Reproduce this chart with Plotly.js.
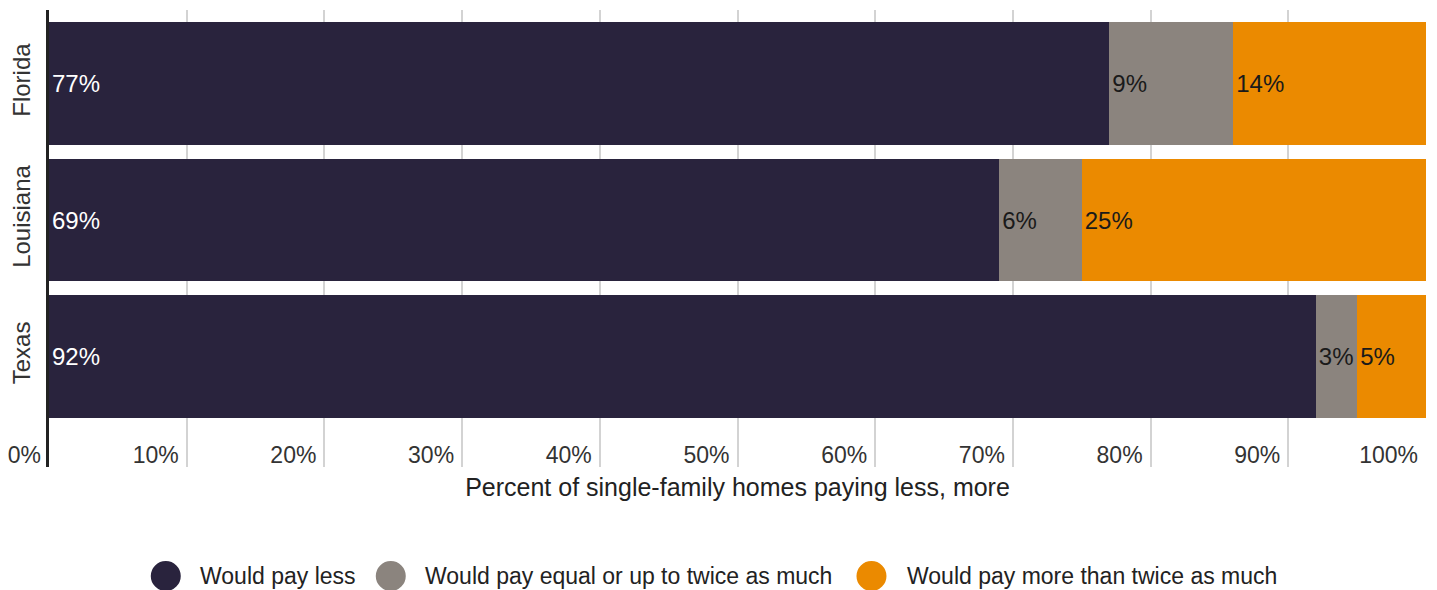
<!DOCTYPE html>
<html>
<head>
<meta charset="utf-8">
<script src="https://cdn.plot.ly/plotly-3.0.1.min.js"></script>
<style>html,body{margin:0;padding:0;background:#fff;}#chart{width:1437px;height:590px;}</style>
</head>
<body>
<div id="chart"></div>
<script>
// Data
const states = ["Texas", "Louisiana", "Florida"];
const seriesNames = ["Would pay less", "Would pay equal or up to twice as much", "Would pay more than twice as much"];
const payLess = [92, 69, 77];
const payEqualOrDouble = [3, 6, 9];
const payMoreThanDouble = [5, 25, 14];
const xTickVals = [0, 10, 20, 30, 40, 50, 60, 70, 80, 90, 100];
const xTickText = ["0%", "10%", "20%", "30%", "40%", "50%", "60%", "70%", "80%", "90%", "100%"];

const colors = ["#29233d", "#8b847e", "#eb8a00"];
const textColors = ["#ffffff", "#1a1a1a", "#1a1a1a"];
const FONT = "Liberation Sans, Arial, sans-serif";
const values = [payLess, payEqualOrDouble, payMoreThanDouble];

const traces = values.map((v, i) => ({
  type: "bar",
  orientation: "h",
  name: seriesNames[i],
  y: states,
  x: v,
  marker: {color: colors[i], line: {width: 0}},
  texttemplate: "%{x}%",
  textposition: "inside",
  insidetextanchor: "start",
  textangle: 0,
  constraintext: "none",
  insidetextfont: {family: FONT, size: 24, color: textColors[i]},
  hoverinfo: "skip",
  showlegend: false
}));

const legendX = [0.0848, 0.2482, 0.5973];
const legendTextX = [0.1085, 0.2718, 0.6216];
const legendY = -0.2385;
const shapes = colors.map((c, i) => ({
  type: "circle", xref: "paper", yref: "paper",
  xsizemode: "pixel", ysizemode: "pixel",
  xanchor: legendX[i], yanchor: legendY,
  x0: -15, x1: 15, y0: -15, y1: 15,
  fillcolor: c, line: {width: 0}
}));
const annotations = seriesNames.map((n, i) => ({
  text: n, xref: "paper", yref: "paper",
  x: legendTextX[i], y: legendY, xanchor: "left", yanchor: "middle",
  showarrow: false, font: {family: FONT, size: 23, color: "#222"}
}));

const layout = {
  width: 1437, height: 590,
  margin: {l: 49, r: 11, t: 10, b: 123},
  paper_bgcolor: "#fff", plot_bgcolor: "#fff",
  barmode: "stack",
  bargap: 0.1,
  font: {family: FONT, size: 22, color: "#333"},
  xaxis: {
    range: [0, 100],
    tickvals: xTickVals,
    ticktext: xTickText,
    ticklabelposition: "outside left",
    ticklabelstandoff: -28,
    ticklabelshift: -8,
    showgrid: true, gridcolor: "#d3d3d3", gridwidth: 2,
    zeroline: false, showline: false,
    tickfont: {family: FONT, size: 23, color: "#333"},
    title: {text: "Percent of single-family homes paying less, more", font: {family: FONT, size: 25, color: "#222"}, standoff: 11},
    fixedrange: true
  },
  yaxis: {
    categoryorder: "array", categoryarray: states,
    range: [-0.81, 2.54],
    showline: true, linecolor: "#222", linewidth: 3,
    showgrid: false, zeroline: false,
    tickangle: -90,
    ticks: "",
    ticklabelstandoff: 6,
    tickfont: {family: FONT, size: 24, color: "#333"},
    fixedrange: true
  },
  shapes: shapes,
  annotations: annotations,
  showlegend: false
};

Plotly.newPlot("chart", traces, layout, {displayModeBar: false, staticPlot: true});
</script>
</body>
</html>
